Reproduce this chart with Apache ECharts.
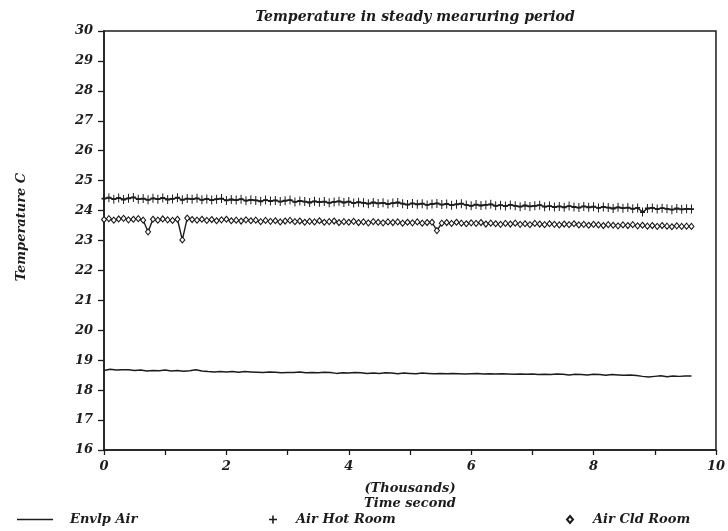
<!DOCTYPE html>
<html>
<head>
<meta charset="utf-8">
<script src="https://cdn.jsdelivr.net/npm/echarts@6/dist/echarts.min.js"></script>
<style>
  html, body { margin: 0; padding: 0; background: #fff; }
  #chart { width: 728px; height: 531px; }
</style>
</head>
<body>
<div id="chart"></div>
<script>
// Room-air sample times in thousands of seconds (80 s logging step)
const timeRoomK = [
  0.00,0.08,0.16,0.24,0.32,0.40,0.48,0.56,0.64,0.72,
  0.80,0.88,0.96,1.04,1.12,1.20,1.28,1.36,1.44,1.52,
  1.60,1.68,1.76,1.84,1.92,2.00,2.08,2.16,2.24,2.32,
  2.40,2.48,2.56,2.64,2.72,2.80,2.88,2.96,3.04,3.12,
  3.20,3.28,3.36,3.44,3.52,3.60,3.68,3.76,3.84,3.92,
  4.00,4.08,4.16,4.24,4.32,4.40,4.48,4.56,4.64,4.72,
  4.80,4.88,4.96,5.04,5.12,5.20,5.28,5.36,5.44,5.52,
  5.60,5.68,5.76,5.84,5.92,6.00,6.08,6.16,6.24,6.32,
  6.40,6.48,6.56,6.64,6.72,6.80,6.88,6.96,7.04,7.12,
  7.20,7.28,7.36,7.44,7.52,7.60,7.68,7.76,7.84,7.92,
  8.00,8.08,8.16,8.24,8.32,8.40,8.48,8.56,8.64,8.72,
  8.80,8.88,8.96,9.04,9.12,9.20,9.28,9.36,9.44,9.52,
  9.60
];

// Envelope-air sample times in thousands of seconds (100 s step)
const timeEnvK = [
  0.0,0.1,0.2,0.3,0.4,0.5,0.6,0.7,0.8,0.9,
  1.0,1.1,1.2,1.3,1.4,1.5,1.6,1.7,1.8,1.9,
  2.0,2.1,2.2,2.3,2.4,2.5,2.6,2.7,2.8,2.9,
  3.0,3.1,3.2,3.3,3.4,3.5,3.6,3.7,3.8,3.9,
  4.0,4.1,4.2,4.3,4.4,4.5,4.6,4.7,4.8,4.9,
  5.0,5.1,5.2,5.3,5.4,5.5,5.6,5.7,5.8,5.9,
  6.0,6.1,6.2,6.3,6.4,6.5,6.6,6.7,6.8,6.9,
  7.0,7.1,7.2,7.3,7.4,7.5,7.6,7.7,7.8,7.9,
  8.0,8.1,8.2,8.3,8.4,8.5,8.6,8.7,8.8,8.9,
  9.0,9.1,9.2,9.3,9.4,9.5,9.6
];

// Envelope air temperature (C)
const envlpAir = [
  18.66,18.70,18.67,18.68,18.68,18.66,18.67,18.64,18.66,18.65,
  18.67,18.64,18.66,18.63,18.65,18.68,18.64,18.62,18.61,18.62,
  18.61,18.62,18.60,18.62,18.61,18.60,18.59,18.61,18.60,18.58,
  18.59,18.59,18.61,18.58,18.59,18.58,18.60,18.59,18.56,18.58,
  18.57,18.59,18.58,18.56,18.57,18.56,18.58,18.57,18.55,18.57,
  18.56,18.55,18.57,18.56,18.55,18.56,18.55,18.56,18.55,18.54,
  18.55,18.56,18.54,18.55,18.54,18.55,18.54,18.53,18.54,18.53,
  18.54,18.52,18.53,18.52,18.54,18.53,18.51,18.53,18.52,18.51,
  18.53,18.52,18.50,18.52,18.51,18.50,18.51,18.49,18.46,18.44,
  18.46,18.48,18.45,18.47,18.46,18.47,18.47
];

// Hot room air temperature (C)
const airHotRoom = [
  24.40,24.43,24.38,24.42,24.37,24.41,24.44,24.38,24.40,24.36,
  24.41,24.38,24.42,24.37,24.39,24.43,24.36,24.40,24.38,24.41,
  24.36,24.39,24.35,24.38,24.40,24.34,24.37,24.35,24.38,24.33,
  24.36,24.34,24.31,24.35,24.32,24.34,24.30,24.33,24.35,24.29,
  24.32,24.30,24.27,24.31,24.28,24.30,24.26,24.29,24.31,24.27,
  24.30,24.25,24.28,24.26,24.23,24.27,24.24,24.26,24.22,24.25,
  24.27,24.23,24.20,24.24,24.21,24.23,24.19,24.22,24.24,24.20,
  24.22,24.18,24.21,24.23,24.19,24.16,24.20,24.17,24.19,24.21,
  24.16,24.18,24.15,24.19,24.16,24.13,24.17,24.14,24.16,24.18,
  24.13,24.15,24.12,24.14,24.11,24.15,24.12,24.10,24.14,24.11,
  24.13,24.09,24.12,24.10,24.07,24.11,24.08,24.10,24.06,24.09,
  23.95,24.07,24.09,24.05,24.08,24.06,24.03,24.07,24.04,24.06,
  24.05
];

// Cold room air temperature (C)
const airCldRoom = [
  23.70,23.73,23.68,23.72,23.74,23.69,23.71,23.73,23.68,23.29,
  23.71,23.68,23.72,23.69,23.67,23.71,23.02,23.75,23.70,23.68,
  23.71,23.67,23.70,23.66,23.69,23.71,23.66,23.68,23.65,23.69,
  23.66,23.68,23.63,23.67,23.64,23.66,23.62,23.65,23.67,23.63,
  23.65,23.61,23.64,23.62,23.66,23.61,23.63,23.65,23.60,23.63,
  23.61,23.64,23.60,23.62,23.59,23.63,23.61,23.59,23.62,23.60,
  23.62,23.58,23.61,23.59,23.62,23.58,23.60,23.61,23.33,23.58,
  23.60,23.57,23.61,23.58,23.56,23.59,23.57,23.60,23.55,23.58,
  23.56,23.54,23.57,23.55,23.58,23.54,23.56,23.53,23.57,23.55,
  23.53,23.56,23.54,23.52,23.55,23.53,23.56,23.52,23.54,23.51,
  23.54,23.52,23.50,23.53,23.51,23.49,23.52,23.50,23.53,23.49,
  23.51,23.48,23.50,23.47,23.50,23.48,23.46,23.49,23.47,23.48,
  23.47
];

const seriesNames = ['Envlp Air', 'Air Hot Room', 'Air Cld Room'];
const xTickLabels = ['0', '2', '4', '6', '8', '10'];

const FONT = '"DejaVu Serif", serif';
const INK = '#1c1c1c';
// Plus-sign marker drawn as a filled outline
const PLUS = 'path://M4.0,0H6.0V4.0H10V6.0H6.0V10H4.0V6.0H0V4.0H4.0Z';

function pairs(xs, ys) {
  return ys.map((y, i) => [xs[i], y]);
}

const chart = echarts.init(document.getElementById('chart'), null, { renderer: 'canvas' });

const labelStyle = {
  fontFamily: FONT, fontStyle: 'italic', fontWeight: 'bold', fontSize: 13, color: INK
};

chart.setOption({
  backgroundColor: '#ffffff',
  animation: false,
  title: {
    text: 'Temperature in steady mearuring period',
    left: 410, top: 5, textAlign: 'center',
    textStyle: Object.assign({}, labelStyle, { fontSize: 14 })
  },
  grid: {
    left: 104, right: 8, top: 31, bottom: 81,
    show: true, borderColor: INK, borderWidth: 1.5, backgroundColor: 'transparent'
  },
  xAxis: {
    type: 'value', min: 0, max: 10, interval: 1,
    axisLine: { show: true, lineStyle: { color: INK, width: 1.5 } },
    axisTick: { show: true, inside: false, length: 5, lineStyle: { color: INK, width: 1.3 } },
    splitLine: { show: false },
    axisLabel: Object.assign({}, labelStyle, {
      margin: 10,
      formatter: v => (xTickLabels.indexOf(String(v)) >= 0 ? String(v) : '')
    }),
    name: '(Thousands)\nTime second',
    nameLocation: 'middle', nameGap: 31,
    nameTextStyle: Object.assign({}, labelStyle, { lineHeight: 15 })
  },
  yAxis: {
    type: 'value', min: 16, max: 30, interval: 1,
    axisLine: { show: true, lineStyle: { color: INK, width: 1.5 } },
    axisTick: { show: true, inside: false, length: 6, lineStyle: { color: INK, width: 1.3 } },
    splitLine: { show: false },
    axisLabel: Object.assign({}, labelStyle, { margin: 11 })
  },
  graphic: [{
    type: 'text',
    x: 22, y: 227, rotation: Math.PI / 2,
    style: {
      text: 'Temperature C', fill: INK,
      font: 'italic bold 13px ' + FONT,
      textAlign: 'center', textVerticalAlign: 'middle'
    }
  }],
  legend: [
    {
      data: [{ name: seriesNames[0], icon: 'rect' }],
      left: 12, top: 508, itemWidth: 36, itemHeight: 1.5,
      textStyle: Object.assign({}, labelStyle, { padding: [0, 0, 0, 12] })
    },
    {
      data: [{ name: seriesNames[1], icon: PLUS }],
      left: 264, top: 508, itemWidth: 8, itemHeight: 8,
      textStyle: Object.assign({}, labelStyle, { padding: [0, 0, 0, 14] })
    },
    {
      data: [{ name: seriesNames[2], icon: 'diamond' }],
      left: 561, top: 508, itemWidth: 6, itemHeight: 7,
      textStyle: Object.assign({}, labelStyle, { padding: [0, 0, 0, 15] })
    }
  ],
  series: [
    {
      name: seriesNames[0], type: 'line', data: pairs(timeEnvK, envlpAir),
      showSymbol: false, symbol: 'none',
      lineStyle: { color: INK, width: 1.5 },
      itemStyle: { color: INK }
    },
    {
      name: seriesNames[1], type: 'line', data: pairs(timeRoomK, airHotRoom),
      symbol: PLUS, symbolSize: [5, 9], showAllSymbol: true,
      lineStyle: { color: INK, width: 1.4 },
      itemStyle: { color: INK }
    },
    {
      name: seriesNames[2], type: 'line', data: pairs(timeRoomK, airCldRoom),
      symbol: 'diamond', symbolSize: [5, 6], showAllSymbol: true,
      lineStyle: { color: INK, width: 1.4 },
      itemStyle: { color: '#ffffff', borderColor: INK, borderWidth: 1.1 }
    }
  ]
});
</script>
</body>
</html>
